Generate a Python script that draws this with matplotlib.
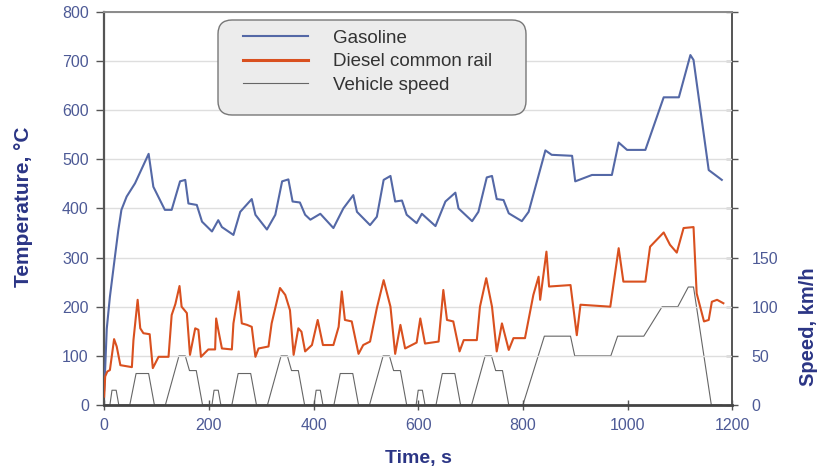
import matplotlib
matplotlib.use("Agg")
import matplotlib.pyplot as plt
from matplotlib.ticker import FixedLocator, FuncFormatter
from matplotlib.patches import FancyBboxPatch
from matplotlib.transforms import IdentityTransform

plt.rcParams['font.family'] = ['Liberation Sans', 'DejaVu Sans']

# ---------------- data ----------------
gas_t = [0, 2, 5, 11, 21, 27, 33, 43, 59, 85, 94, 116, 129, 145, 155, 161, 177, 187, 206, 218, 225,
         247, 260, 282, 289, 311, 327, 340, 352, 360, 374, 384, 394, 413, 438, 457, 476, 483, 508,
         521, 534, 547, 556, 569, 578, 597, 607, 633, 652, 671, 677, 703, 715, 731, 741, 750, 763,
         773, 798, 811, 843, 855, 894, 900, 932, 970, 983, 999, 1034, 1069, 1098, 1120, 1126, 1155, 1180]
gas_T = [30, 75, 155, 220, 305, 355, 397, 424, 451, 511, 444, 397, 397, 455, 458, 410, 407, 373, 353, 376, 362,
         346, 393, 419, 387, 357, 387, 455, 459, 414, 412, 387, 377, 389, 360, 400, 427, 393, 366,
         383, 458, 466, 414, 416, 387, 370, 389, 364, 414, 432, 400, 374, 393, 463, 466, 419, 417,
         390, 374, 393, 518, 509, 507, 455, 468, 468, 534, 519, 519, 626, 626, 712, 702, 478, 458]

die_t = [0, 2, 6, 11, 19, 24, 31, 53, 56, 64, 69, 75, 87, 93, 104, 123, 129, 136, 144, 148, 158, 164,
         174, 180, 185, 199, 212, 214, 218, 225, 244, 247, 257, 263, 273, 282, 289, 295, 314, 320, 336,
         346, 355, 362, 371, 377, 384, 397, 408, 418, 438, 448, 454, 460, 473, 486, 495, 508, 521, 534,
         547, 556, 566, 575, 597, 604, 613, 639, 648, 655, 667, 679, 687, 712, 718, 730, 741, 750, 760,
         773, 782, 804, 820, 830, 833, 845, 850, 891, 903, 910, 967, 983, 992, 1034, 1043, 1069, 1081,
         1094, 1107, 1126, 1132, 1146, 1155, 1161, 1171, 1183]
die_T = [17, 58, 68, 71, 134, 119, 81, 77, 132, 214, 156, 146, 144, 75, 98, 98, 183, 205, 242, 200, 187, 102,
         156, 153, 98, 113, 113, 176, 153, 115, 113, 166, 231, 166, 163, 159, 98, 115, 119, 166, 238,
         224, 193, 102, 156, 149, 109, 122, 173, 122, 122, 159, 231, 173, 170, 104, 122, 129, 197, 254,
         200, 104, 163, 115, 127, 176, 125, 129, 234, 173, 170, 109, 132, 132, 200, 258, 200, 109, 166,
         112, 136, 136, 224, 261, 214, 312, 241, 244, 142, 204, 200, 319, 251, 251, 322, 351, 326,
         310, 360, 362, 227, 170, 173, 210, 214, 207]

spd_t = [0, 11, 15, 23, 28, 49, 61, 85, 96, 117, 143, 155, 163, 176, 188,
         195, 206, 210, 218, 223, 244, 256, 280, 291, 312, 338, 350, 358, 371, 383,
         390, 401, 405, 413, 418, 439, 451, 475, 486, 507, 533, 545, 553, 566, 578,
         585, 596, 600, 608, 613, 634, 646, 670, 681, 702, 728, 740, 748, 761, 773,
         780, 800, 841, 891, 899, 968, 981, 1031, 1066, 1096, 1116, 1126, 1160, 1180]
spd_v = [0, 0, 15, 15, 0, 0, 32, 32, 0, 0, 50, 50, 35, 35, 0,
         0, 0, 15, 15, 0, 0, 32, 32, 0, 0, 50, 50, 35, 35, 0,
         0, 0, 15, 15, 0, 0, 32, 32, 0, 0, 50, 50, 35, 35, 0,
         0, 0, 15, 15, 0, 0, 32, 32, 0, 0, 50, 50, 35, 35, 0,
         0, 0, 70, 70, 50, 50, 70, 70, 100, 100, 120, 120, 0, 0]

labels = ["Gasoline", "Diesel common rail", "Vehicle speed"]
temp_ticks = [0, 100, 200, 300, 400, 500, 600, 700, 800]
time_ticks = [0, 200, 400, 600, 800, 1000, 1200]
speed_ticks = [0, 50, 100, 150, 200, 250, 300, 350, 400]
speed_labeled = [0, 50, 100, 150]

# ---------------- style ----------------
c_gas = "#5468a6"
c_die = "#d9501f"
c_spd = "#666666"
c_lab = "#2b3585"
c_tick = "#4d5a96"

fig = plt.figure(figsize=(8.2, 4.72), dpi=100)
ax = fig.add_axes([0.127, 0.142, 0.766, 0.833])
ax2 = ax.twinx()

l1, = ax.plot(gas_t, gas_T, color=c_gas, lw=1.5, zorder=3)
l2, = ax.plot(die_t, die_T, color=c_die, lw=1.5, zorder=3)
l3, = ax2.plot(spd_t, spd_v, color=c_spd, lw=0.8, zorder=2)

ax.set_xlim(0, 1200)
ax.set_ylim(0, 800)
ax2.set_ylim(0, 400)

ax.set_xticks(time_ticks)
ax.set_yticks(temp_ticks)
ax.grid(axis='y', color='#dedede', lw=1.0)
ax.set_axisbelow(True)

ax2.yaxis.set_major_locator(FixedLocator(speed_ticks))
ax2.yaxis.set_major_formatter(FuncFormatter(lambda v, p: f"{int(v)}" if v in speed_labeled else ""))

ax.tick_params(axis='y', direction='out', length=6, width=1, color='#555555',
               labelsize=11.5, labelcolor=c_tick, pad=5)
ax.tick_params(axis='x', direction='inout', length=7, width=1, color='#555555',
               labelsize=11.5, labelcolor=c_tick, pad=6)
ax2.tick_params(axis='y', direction='inout', length=8, width=1, color='#555555',
                labelsize=11.5, labelcolor=c_tick, pad=10)

ax.spines['left'].set_color('#555555'); ax.spines['left'].set_linewidth(1.6)
ax.spines['bottom'].set_color('#444444'); ax.spines['bottom'].set_linewidth(2.0)
ax.spines['top'].set_color('#8a8a8a'); ax.spines['top'].set_linewidth(1.4)
ax.spines['right'].set_visible(False)
ax2.spines['right'].set_color('#555555'); ax2.spines['right'].set_linewidth(1.4)
for s in ['left', 'top', 'bottom']:
    ax2.spines[s].set_visible(False)

ax.set_xlabel("Time, s", fontsize=14, fontweight='bold', color=c_lab, labelpad=12)
ax.set_ylabel("Temperature, °C", fontsize=15, fontweight='bold', color=c_lab)
ax.yaxis.set_label_coords(-0.113, 0.504)
ax2.set_ylabel("Speed, km/h", fontsize=14.5, fontweight='bold', color=c_lab)
ax2.yaxis.set_label_coords(1.107, 0.198)

ax.set_zorder(ax2.get_zorder() + 1)
ax.patch.set_visible(False)

# legend frame (rounded box, in pixels)
frame = FancyBboxPatch((218, 472 - 115), 308, 95,
                       boxstyle="round,pad=0,rounding_size=14",
                       transform=IdentityTransform(), facecolor='#ececec',
                       edgecolor='#777777', linewidth=1.0, zorder=6)
ax.add_artist(frame)

leg = ax.legend([l1, l2, l3], labels, loc='upper left',
                bbox_to_anchor=((243 - 104) / 628, (405 - 30) / 393),
                fontsize=13.5, handlelength=3.47, handletextpad=1.33, labelspacing=0.33,
                borderpad=0, borderaxespad=0, frameon=False)
leg.set_zorder(7)
for t in leg.get_texts():
    t.set_color('#333333')
leg.legend_handles[1].set_linewidth(2.2)

fig.savefig("out.png", dpi=100)
